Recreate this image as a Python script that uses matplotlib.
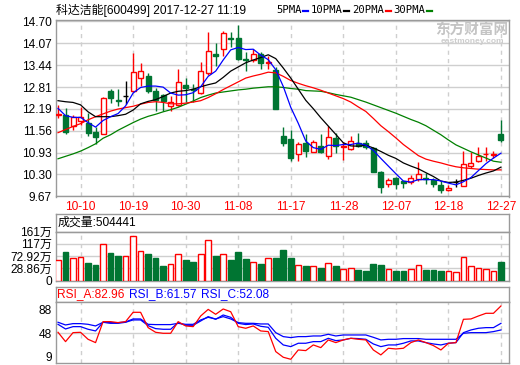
import matplotlib
matplotlib.use('Agg')
import matplotlib.pyplot as plt
from matplotlib.lines import Line2D
import numpy as np

plt.rcParams['font.family'] = ['Liberation Sans', 'Noto Sans CJK SC', 'DejaVu Sans']

# ---------------- data ----------------
dates = ['09-28', '09-29', '10-09', '10-10', '10-11', '10-12', '10-13', '10-16', '10-17', '10-18',
         '10-19', '10-20', '10-23', '10-24', '10-25', '10-26', '10-27', '10-30', '10-31', '11-01',
         '11-02', '11-03', '11-06', '11-07', '11-08', '11-09', '11-10', '11-13', '11-14', '11-15',
         '11-16', '11-17', '11-20', '11-21', '11-22', '11-23', '11-24', '11-27', '11-28', '11-29',
         '11-30', '12-01', '12-04', '12-05', '12-06', '12-07', '12-08', '12-11', '12-12', '12-13',
         '12-14', '12-15', '12-18', '12-19', '12-20', '12-21', '12-22', '12-25', '12-26', '12-27']
opens = [12.02, 12.02, 11.70, 11.84, 11.77, 11.51, 11.47, 12.70, 12.45, 12.55,
         12.69, 13.07, 13.13, 12.70, 12.57, 12.26, 12.30, 12.88, 12.76, 12.65,
         13.22, 13.76, 13.90, 14.22, 14.22, 13.63, 13.59, 13.75, 13.49, 13.30,
         11.41, 11.31, 10.90, 11.21, 10.95, 11.12, 10.84, 11.34, 11.08, 11.04,
         11.19, 11.21, 11.06, 10.37, 10.02, 10.19, 10.10, 10.08, 10.18, 10.19,
         10.15, 10.00, 9.84, 10.07, 9.98, 10.53, 10.68, 10.88, 10.87, 11.47]
highs = [12.31, 12.20, 12.02, 12.25, 12.06, 11.65, 12.53, 12.76, 12.76, 12.99,
         13.78, 13.49, 13.23, 12.78, 12.62, 12.55, 13.34, 13.07, 12.90, 13.54,
         14.39, 14.07, 14.41, 14.39, 14.61, 13.83, 13.91, 13.83, 13.71, 13.39,
         11.67, 11.57, 11.23, 11.47, 11.28, 11.45, 11.70, 11.50, 11.24, 11.41,
         11.48, 11.29, 11.10, 10.39, 10.19, 10.24, 10.12, 10.29, 10.66, 10.34,
         10.21, 10.10, 10.00, 10.17, 10.97, 10.95, 11.09, 11.09, 10.97, 11.86]
lows = [11.92, 11.45, 11.58, 11.72, 11.41, 11.18, 11.45, 12.35, 12.26, 12.33,
        12.67, 12.84, 12.64, 12.13, 12.13, 12.13, 12.26, 12.38, 12.38, 12.62,
        13.17, 13.42, 13.71, 13.97, 13.58, 13.28, 13.52, 13.33, 13.33, 12.17,
        11.13, 10.68, 10.68, 10.80, 10.94, 10.92, 10.75, 10.92, 10.71, 11.00,
        11.09, 11.04, 10.37, 9.78, 9.95, 9.88, 9.92, 10.02, 10.10, 10.03,
        9.95, 9.78, 9.81, 9.95, 9.98, 10.49, 10.65, 10.68, 10.78, 11.23]
closes = [12.04, 11.52, 11.96, 11.94, 11.48, 11.38, 12.49, 12.51, 12.40, 12.55,
          13.25, 13.27, 12.71, 12.44, 12.40, 12.37, 12.96, 12.78, 12.72, 13.28,
          13.86, 13.71, 14.38, 14.18, 13.61, 13.59, 13.76, 13.51, 13.52, 12.17,
          11.19, 10.78, 11.18, 10.97, 11.24, 10.94, 11.39, 11.12, 11.11, 11.26,
          11.12, 11.10, 10.37, 9.95, 10.15, 10.03, 10.06, 10.19, 10.32, 10.16,
          10.03, 9.84, 9.92, 10.07, 10.60, 10.63, 10.84, 10.90, 10.90, 11.29]
ma5 = [12.20, 11.99, 11.94, 11.94, 11.79, 11.66, 11.85, 11.96, 12.05, 12.27,
       12.64, 12.80, 12.84, 12.84, 12.81, 12.64, 12.58, 12.59, 12.65, 12.82,
       13.12, 13.27, 13.59, 13.88, 13.95, 13.89, 13.90, 13.73, 13.60, 13.31,
       12.83, 12.23, 11.77, 11.26, 11.07, 11.02, 11.14, 11.13, 11.16, 11.16,
       11.20, 11.14, 10.99, 10.76, 10.54, 10.32, 10.11, 10.08, 10.15, 10.15,
       10.15, 10.11, 10.05, 10.00, 10.09, 10.21, 10.41, 10.61, 10.77, 10.91]
ma10 = [12.42, 12.39, 12.37, 12.30, 12.10, 11.96, 11.96, 11.96, 11.99, 12.03,
        12.15, 12.33, 12.40, 12.45, 12.54, 12.64, 12.69, 12.71, 12.75, 12.82,
        12.88, 12.93, 13.09, 13.27, 13.39, 13.51, 13.59, 13.66, 13.74, 13.63,
        13.36, 13.07, 12.75, 12.43, 12.19, 11.93, 11.69, 11.45, 11.21, 11.12,
        11.11, 11.14, 11.06, 10.96, 10.85, 10.76, 10.63, 10.54, 10.46, 10.35,
        10.24, 10.11, 10.07, 10.08, 10.13, 10.19, 10.27, 10.34, 10.40, 10.51]
ma20 = [11.50, 11.59, 11.68, 11.76, 11.87, 11.96, 12.04, 12.12, 12.18, 12.22,
        12.26, 12.32, 12.37, 12.39, 12.37, 12.33, 12.33, 12.35, 12.38, 12.42,
        12.51, 12.62, 12.74, 12.85, 12.96, 13.07, 13.13, 13.18, 13.24, 13.22,
        13.12, 13.00, 12.92, 12.85, 12.79, 12.72, 12.64, 12.56, 12.48, 12.38,
        12.24, 12.11, 11.91, 11.70, 11.53, 11.35, 11.16, 11.00, 10.84, 10.74,
        10.68, 10.63, 10.57, 10.52, 10.49, 10.47, 10.45, 10.44, 10.43, 10.43]
ma30 = [10.75, 10.82, 10.89, 10.97, 11.07, 11.18, 11.34, 11.44, 11.57, 11.68,
        11.79, 11.89, 11.97, 12.03, 12.10, 12.16, 12.23, 12.32, 12.41, 12.51,
        12.58, 12.64, 12.67, 12.70, 12.73, 12.75, 12.78, 12.80, 12.82, 12.82,
        12.80, 12.77, 12.75, 12.71, 12.70, 12.69, 12.65, 12.60, 12.56, 12.52,
        12.45, 12.38, 12.30, 12.22, 12.14, 12.06, 11.97, 11.88, 11.80, 11.70,
        11.57, 11.44, 11.29, 11.15, 11.05, 10.95, 10.86, 10.77, 10.68, 10.65]
volumes = [57.1, 86.8, 64.5, 68.3, 49.7, 42.3, 115.4, 83.1, 72.0, 74.6,
           145.0, 93.1, 79.4, 65.7, 38.6, 44.9, 82.0, 57.1, 53.4, 82.0,
           131.3, 72.0, 82.0, 57.1, 86.8, 60.8, 52.3, 46.0, 67.1, 64.5,
           94.2, 64.5, 41.2, 37.5, 37.5, 31.2, 48.6, 37.5, 27.5, 30.0,
           23.7, 20.0, 46.0, 42.3, 26.3, 20.0, 20.0, 26.3, 41.2, 23.7,
           23.7, 20.0, 18.9, 15.2, 70.8, 37.5, 30.0, 26.3, 18.9, 50.4]
rsi_a = [49.7, 33.7, 49.1, 49.7, 37.7, 32.0, 68.0, 68.0, 66.3, 68.0,
         84.0, 84.0, 57.7, 49.7, 48.0, 48.0, 68.0, 60.6, 59.4, 77.7,
         89.0, 80.6, 89.7, 85.0, 59.4, 56.6, 60.6, 52.0, 50.9, 16.6,
         6.9, 3.4, 19.4, 18.3, 28.0, 23.4, 36.6, 32.0, 36.6, 39.4,
         37.7, 36.6, 19.4, 10.9, 22.3, 21.1, 22.3, 32.0, 36.6, 32.0,
         26.9, 19.4, 30.9, 32.0, 72.0, 72.6, 77.7, 82.3, 82.3, 94.9]
rsi_b = [63.4, 55.4, 59.4, 59.4, 54.9, 52.0, 66.9, 65.1, 65.1, 66.9,
         70.9, 70.9, 61.1, 56.0, 54.9, 54.9, 66.3, 61.7, 61.7, 69.1,
         76.6, 72.0, 79.4, 75.4, 65.1, 63.0, 64.0, 60.0, 58.3, 39.4,
         28.0, 25.1, 30.9, 30.9, 33.7, 33.7, 39.4, 35.4, 36.6, 39.4,
         38.9, 37.7, 29.7, 25.1, 28.0, 28.0, 30.9, 34.9, 34.9, 32.0,
         29.7, 28.0, 30.9, 32.0, 49.1, 53.7, 56.6, 57.7, 57.7, 65.1]
rsi_c = [66.9, 62.3, 64.6, 64.6, 63.4, 60.6, 66.9, 66.3, 66.3, 67.4,
         72.6, 72.6, 63.4, 62.9, 62.9, 62.9, 65.1, 63.4, 63.4, 70.9,
         75.4, 72.6, 76.6, 72.6, 66.3, 65.1, 65.1, 64.0, 64.0, 49.1,
         42.3, 40.6, 42.3, 42.3, 43.4, 43.4, 46.3, 43.4, 45.1, 45.1,
         45.1, 45.1, 41.1, 36.6, 37.7, 37.7, 38.9, 38.9, 38.9, 37.7,
         37.7, 37.7, 37.7, 37.7, 48.0, 49.1, 49.1, 49.1, 50.9, 53.7]
tick_dates = ['10-10', '10-19', '10-30', '11-08', '11-17', '11-28', '12-07', '12-18', '12-27']
price_ticks = [14.70, 14.07, 13.44, 12.81, 12.19, 11.56, 10.93, 10.30, 9.67]
price_tick_labels = ['14.70', '14.07', '13.44', '12.81', '12.19', '11.56', '10.93', '10.30', '9.67']
vol_ticks = [161, 117, 72.92, 28.86]
vol_tick_labels = ['161万', '117万', '72.92万', '28.86万']
rsi_ticks = [88, 48, 9]
title_text = '科达洁能[600499] 2017-12-27 11:19'
vol_title = '成交量:504441'
rsi_titles = [('RSI_A:82.96', '#ff0000'), ('RSI_B:61.57', '#0000ff'), ('RSI_C:52.08', '#0000ff')]
legend_names = ['5PMA', '10PMA', '20PMA', '30PMA']

# ---------------- style ----------------
W, H = 520, 365
RED = '#ff0000'
GREEN = '#007532'
BLUE = '#0000ff'
GRID = '#cfcfcf'
FRAME = '#9a9a9a'
FS = 8.6

fig = plt.figure(figsize=(W / 100, H / 100), dpi=100)
fig.patch.set_facecolor('white')


def rect(x0, y0, x1, y1):
    return [x0 / W, 1 - y1 / H, (x1 - x0) / W, (y1 - y0) / H]


x = np.arange(len(closes))
o = np.array(opens)
c = np.array(closes)
h = np.array(highs)
l = np.array(lows)
up = c > o
down = c < o
flat = c == o
tick_pos = [dates.index(d) for d in tick_dates]
XL = (-0.27, 60.07)


def style_axes(ax):
    for sp in ax.spines.values():
        sp.set_color(FRAME)
        sp.set_linewidth(1)
    ax.tick_params(length=0, labelsize=FS)
    ax.set_axisbelow(True)


# ---------------- price panel ----------------
ax = fig.add_axes(rect(56, 20, 509, 196.5))
style_axes(ax)
ax.set_xlim(*XL)
ax.set_ylim(9.665, 14.74)
ax.set_yticks(price_ticks)
ax.set_yticklabels(price_tick_labels)
ax.set_xticks(tick_pos)
ax.set_xticklabels(tick_dates, color=RED)
ax.tick_params(axis='x', pad=3)
ax.tick_params(axis='y', pad=3)
ax.yaxis.grid(True, color=GRID, lw=1, ls='-')
ax.xaxis.grid(True, color=GRID, lw=1, ls=(0, (3, 3)))

# watermark (behind the data)
ax.text(472 / W, 1 - 31 / H, '东方财富网', transform=fig.transFigure, fontsize=10.5,
        fontweight='bold', color='#c4c4c4', ha='center', va='center', zorder=1)
ax.text(472 / W, 1 - 41.5 / H, 'eastmoney.com', transform=fig.transFigure, fontsize=6,
        fontweight='bold', color='#cccccc', ha='center', va='center', zorder=1)

cols = np.where(up, RED, np.where(down, GREEN, 'black'))
ax.vlines(x, l, h, colors=cols, lw=1, zorder=2)
bw = 0.66
bb = np.minimum(o, c)
bh = np.abs(c - o)
ax.bar(x[up], bh[up], bottom=bb[up], width=bw, facecolor='white', edgecolor=RED, lw=1, zorder=3)
ax.bar(x[down], bh[down], bottom=bb[down], width=bw, facecolor=GREEN, edgecolor=GREEN, lw=1, zorder=3)
ax.hlines(c[flat], x[flat] - bw / 2, x[flat] + bw / 2, colors='black', lw=1, zorder=3)

ax.plot(x, ma30, color='#008000', lw=0.9, zorder=4)
ax.plot(x, ma20, color=RED, lw=0.9, zorder=4)
ax.plot(x, ma10, color='black', lw=0.9, zorder=4)
ax.plot(x, ma5, color=BLUE, lw=0.9, zorder=4)

# title and legend
fig.text(56 / W, 1 - 10 / H, title_text, fontsize=FS, va='center', ha='left')
renderer = fig.canvas.get_renderer()
leg_cols = [BLUE, 'black', RED, '#008000']
cur = 276
for name, col in zip(legend_names, leg_cols):
    t = fig.text(cur / W, 1 - 10 / H, name, fontsize=7.6, va='center', ha='left',
                 family=['DejaVu Sans Mono'])
    end = t.get_window_extent(renderer=renderer).x1
    fig.add_artist(Line2D([(end + 1.5) / W, (end + 6.5) / W], [1 - 11 / H, 1 - 11 / H],
                          color=col, lw=1.6))
    cur = end + 9.5

# ---------------- volume panel ----------------
axt = fig.add_axes(rect(56, 214.3, 509, 231.7))
style_axes(axt)
axt.set_xticks([])
axt.set_yticks([])
axt.text(0.004, 0.5, vol_title, transform=axt.transAxes, fontsize=FS, va='center', ha='left')

VMIN = -15.2
axv = fig.add_axes(rect(56, 231.7, 509, 280.5))
style_axes(axv)
axv.set_xlim(*XL)
axv.set_ylim(VMIN, 161)
axv.set_yticks([VMIN] + vol_ticks)
axv.set_yticklabels(['0'] + vol_tick_labels)
axv.tick_params(axis='y', pad=3)
axv.set_xticks(tick_pos)
axv.set_xticklabels([])
axv.yaxis.grid(True, color=GRID, lw=1, ls='-')
axv.xaxis.grid(True, color=GRID, lw=1, ls=(0, (3, 3)))
vol = np.array(volumes)
vup = c >= o
axv.bar(x[vup], vol[vup] - VMIN, bottom=VMIN, width=0.76, facecolor='white', edgecolor=RED, lw=1, zorder=3)
axv.bar(x[~vup], vol[~vup] - VMIN, bottom=VMIN, width=0.76, facecolor=GREEN, edgecolor=GREEN, lw=1, zorder=3)

# ---------------- RSI panel ----------------
axr_t = fig.add_axes(rect(56, 286.7, 509, 301.7))
style_axes(axr_t)
axr_t.set_xticks([])
axr_t.set_yticks([])
for (txt, col), tx in zip(rsi_titles, [57, 129, 201]):
    fig.text(tx / W, 1 - 294.5 / H, txt, fontsize=FS, color=col, va='center', ha='left')

axr = fig.add_axes(rect(56, 301.7, 509, 363.3))
style_axes(axr)
axr.set_xlim(*XL)
axr.set_ylim(-3.5, 102.2)
axr.set_yticks(rsi_ticks)
axr.tick_params(axis='y', pad=3)
axr.set_xticks(tick_pos)
axr.set_xticklabels([])
axr.axhline(48, color=GRID, lw=1, zorder=0)
axr.xaxis.grid(True, color=GRID, lw=1, ls=(0, (3, 3)))
axr.plot(x, rsi_c, color=BLUE, lw=0.9, zorder=3)
axr.plot(x, rsi_b, color=BLUE, lw=0.9, zorder=3)
axr.plot(x, rsi_a, color=RED, lw=0.9, zorder=4)

fig.savefig('out.png', dpi=100)
